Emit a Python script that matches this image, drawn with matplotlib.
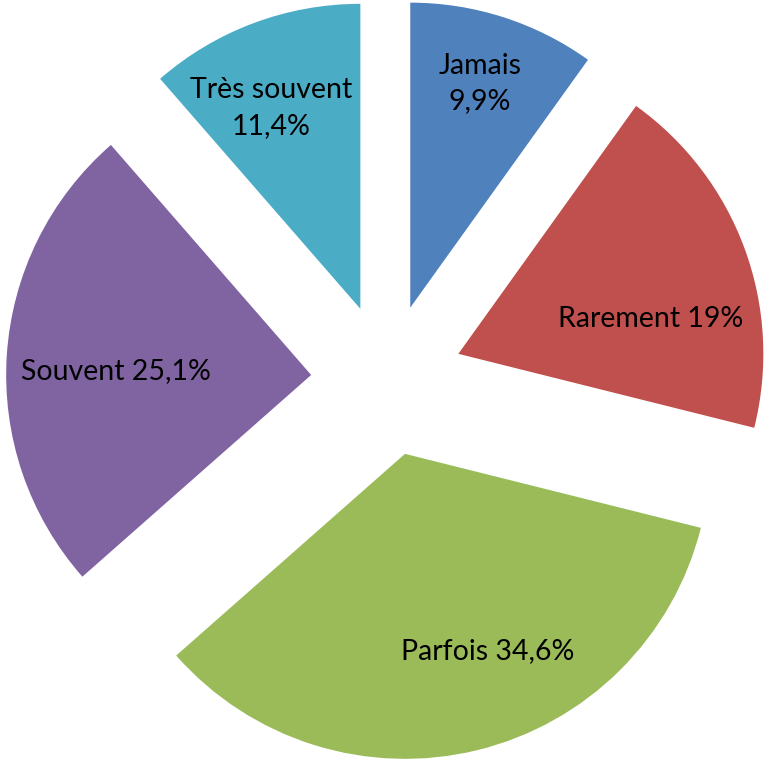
import numpy as np
import matplotlib
matplotlib.use("Agg")
import matplotlib.pyplot as plt

# data
categories = ["Jamais", "Rarement", "Parfois", "Souvent", "Très souvent"]
values = [9.9, 19.0, 34.6, 25.1, 11.4]
value_labels = ["9,9%", "19%", "34,6%", "25,1%", "11,4%"]
colors = ["#4F81BD", "#C0504D", "#9BBB59", "#8064A2", "#4BACC6"]
# label layout: (fraction of radius from exploded centre, angle shift in degrees, two lines?)
label_frac = [0.77, 0.64, 0.70, 0.64, 0.72]
label_shift = [0.5, -10.0, 9.0, 2.5, 3.4]
two_lines = [True, False, False, False, True]

W, H = 769, 764
cx, cy = 387, H - 380
radius = 305
explode_px = 76

plt.rcParams['font.family'] = ['Lato', 'DejaVu Sans']

fig = plt.figure(figsize=(W / 100, H / 100), dpi=100)
ax = fig.add_axes([0, 0, 1, 1])

wedges, _ = ax.pie(values, colors=colors, startangle=90, counterclock=False,
                   center=(cx, cy), radius=radius, explode=[explode_px] * len(values),
                   wedgeprops=dict(linewidth=0), frame=True)
ax.set_xlim(0, W)
ax.set_ylim(0, H)
ax.set_aspect('equal')
ax.axis('off')

for w, cat, vl, fr, sh, tl in zip(wedges, categories, value_labels, label_frac, label_shift, two_lines):
    mid = np.deg2rad((w.theta1 + w.theta2) / 2 + sh)
    x0, y0 = w.center
    tx = x0 + fr * radius * np.cos(mid)
    ty = y0 + fr * radius * np.sin(mid)
    txt = f"{cat}\n{vl}" if tl else f"{cat} {vl}"
    ax.text(tx, ty, txt, ha='center', va='center', fontsize=20.5, color='black',
            linespacing=1.45)

fig.savefig("out.png", dpi=100)
